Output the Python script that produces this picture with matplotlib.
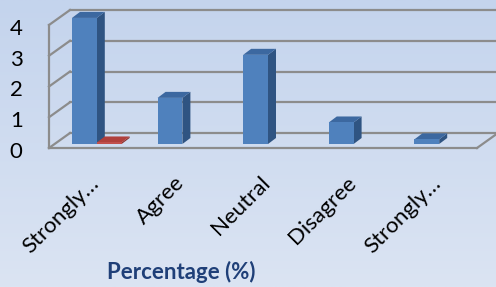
import numpy as np
import matplotlib
matplotlib.use("Agg")
import matplotlib.pyplot as plt
from matplotlib.transforms import ScaledTranslation
from matplotlib.patches import Polygon, Rectangle

plt.rcParams['font.family'] = ['Lato', 'DejaVu Sans']

categories = ["Strongly…", "Agree", "Neutral", "Disagree", "Strongly…"]
series_a = [4.1, 1.5, 2.9, 0.7, 0.15]   # blue series
series_b = [0.05, 0, 0, 0, 0]          # red series
yticks = [0, 1, 2, 3, 4]
xlabel = "Percentage (%)"

W, H = 496, 287
DPI = 100
fig = plt.figure(figsize=(W / DPI, H / DPI), dpi=DPI)

# background gradient
bg = fig.add_axes([0, 0, 1, 1], zorder=-10)
top = np.array([196, 212, 237]) / 255
bot = np.array([219, 228, 243]) / 255
t = np.linspace(0, 1, 256)[:, None]
grad = top[None, :] * (1 - t) + bot[None, :] * t
bg.imshow(grad[:, None, :], aspect='auto', extent=[0, 1, 0, 1])
bg.axis('off')

# front plane of the 3D box
x0, x1, yb, yt = 49, 477, 148, 25
ax = fig.add_axes([x0 / W, 1 - yb / H, (x1 - x0) / W, (yb - yt) / H])
ax.set_xlim(-0.5, len(categories) - 0.5)
ax.set_ylim(0, 4)
ax.patch.set_alpha(0)
for s in ax.spines.values():
    s.set_visible(False)


def off(dx, dy):
    return ax.transData + ScaledTranslation(dx / DPI, dy / DPI, fig.dpi_scale_trans)


def px2data(dx, dy):
    inv = ax.transData.inverted()
    p0 = inv.transform((0, 0))
    p1 = inv.transform((dx, dy))
    return p1[0] - p0[0], p1[1] - p0[1]


grid_c = '#8c8c8c'
BACK = (21, 15)
xl, xr = ax.get_xlim()
back_t = off(*BACK)
bdx, bdy = px2data(*BACK)
for v in yticks:
    ax.plot([xl, xr], [v, v], color=grid_c, lw=1.6, transform=back_t, clip_on=False, zorder=1)
    ax.plot([xl, xl + bdx], [v, v + bdy], color=grid_c, lw=1.6, clip_on=False, zorder=1)
# floor front edge + right diagonal, left vertical
ax.plot([xl, xr], [0, 0], color=grid_c, lw=1.6, clip_on=False, zorder=1)
ax.plot([xr, xr + bdx], [0, bdy], color=grid_c, lw=1.6, clip_on=False, zorder=1)
ax.plot([xl, xl], [0, 4], color=grid_c, lw=1.6, clip_on=False, zorder=1)

# bars
bar_t = off(5, 4)
bw = 0.29
ddx, ddy = px2data(8, 6)
styles = [
    (series_a, -bw / 2, '#4f81bd', '#3c68a0', '#2f5482'),
    (series_b, bw / 2, '#c0504d', '#b0403c', '#8c3230'),
]
for vals, shift, cf, ct, cs in styles:
    for i, v in enumerate(vals):
        if v <= 0:
            continue
        l = i + shift - bw / 2
        r = i + shift + bw / 2
        side = Polygon([(r, 0), (r, v), (r + ddx, v + ddy), (r + ddx, ddy)],
                       closed=True, fc=cs, ec='none', transform=bar_t, clip_on=False, zorder=3)
        topf = Polygon([(l, v), (r, v), (r + ddx, v + ddy), (l + ddx, v + ddy)],
                       closed=True, fc=ct, ec='none', transform=bar_t, clip_on=False, zorder=3)
        front = Rectangle((l, 0), bw, v, fc=cf, ec='none', transform=bar_t, clip_on=False, zorder=4)
        ax.add_patch(side)
        ax.add_patch(topf)
        ax.add_patch(front)

ax.set_yticks(yticks)
ax.set_yticklabels([str(v) for v in yticks], fontsize=16, color='black')
ax.tick_params(axis='y', length=0, pad=19)
for lab in ax.get_yticklabels():
    lab.set_transform(lab.get_transform() + ScaledTranslation(0, -2 / DPI, fig.dpi_scale_trans))
ax.set_xticks(range(len(categories)))
ax.set_xticklabels(categories, fontsize=16, rotation=45, ha='right', va='center',
                   rotation_mode='anchor', color='black')
ax.tick_params(axis='x', length=0, pad=23)
for lab in ax.get_xticklabels():
    lab.set_transform(lab.get_transform() + ScaledTranslation(4 / DPI, 0, fig.dpi_scale_trans))

fig.text(181 / W, 1 - 272 / H, xlabel, ha='center', va='center', fontsize=16,
         fontweight='bold', color='#1f3f78')

fig.savefig('out.png', dpi=DPI)
